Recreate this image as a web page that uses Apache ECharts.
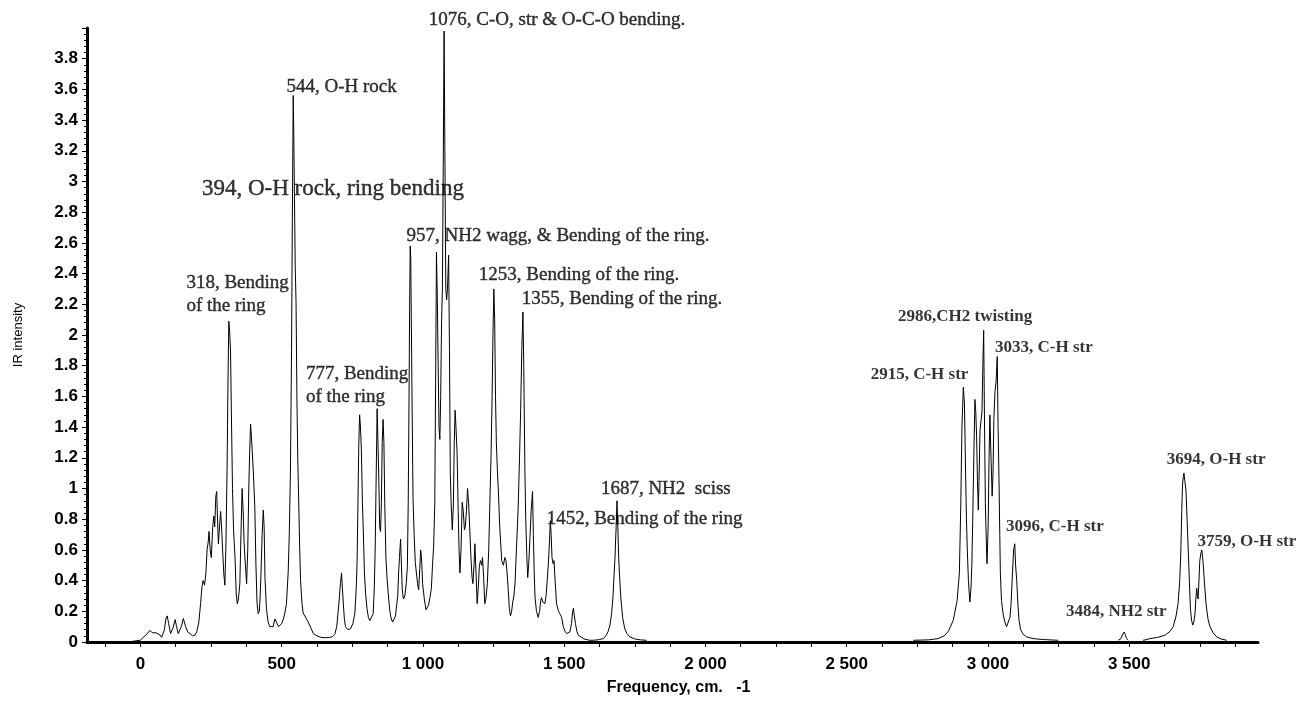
<!DOCTYPE html>
<html>
<head>
<meta charset="utf-8">
<title>IR spectrum</title>
<script src="https://cdn.jsdelivr.net/npm/echarts@6/dist/echarts.min.js"></script>
<style>
  html, body { margin: 0; padding: 0; background: #fff; }
  #chart { width: 1314px; height: 702px; }
</style>
</head>
<body>
<div id="chart"></div>
<script>
// fingerprint region, 0 - 1800 cm-1
const lowFreq = [-40, -25, 0, 10, 22, 34, 42, 48, 56, 63, 70, 75, 85, 90, 95, 100, 107, 115, 123, 128, 134, 145, 152, 160, 168, 175, 185, 193, 200, 207, 213, 218, 222, 227, 232, 236, 240, 243, 247, 251, 256, 260, 263, 267, 270, 273, 276, 280, 284, 288, 291, 295, 299, 303, 307, 310, 313, 316, 319, 322, 326, 330, 335, 339, 343, 347, 352, 356, 360, 364, 367, 371, 376, 380, 384, 387, 390, 393, 396, 400, 405, 409, 413, 417, 421, 424, 427, 431, 435, 438, 441, 446, 452, 458, 464, 470, 476, 480, 484, 489, 494, 500, 506, 511, 517, 523, 527, 531, 535, 538, 541, 543, 546, 548, 551, 554, 557, 560, 564, 567, 572, 576, 582, 588, 594, 598, 604, 612, 625, 640, 655, 670, 680, 688, 695, 700, 704, 708, 712, 715, 718, 722, 726, 735, 744, 752, 759, 764, 767, 770, 773, 776, 779, 782, 786, 789, 793, 797, 802, 807, 812, 818, 824, 828, 831, 834, 838, 841, 844, 847, 850, 853, 856, 859, 862, 865, 869, 873, 877, 883, 888, 893, 898, 903, 907, 911, 914, 917, 921, 924, 927, 931, 936, 941, 945, 948, 951, 953, 955, 957, 959, 962, 965, 969, 973, 977, 981, 985, 989, 992, 995, 999, 1005, 1011, 1015, 1020, 1025, 1030, 1034, 1038, 1042, 1045, 1048, 1051, 1054, 1057, 1060, 1063, 1066, 1069, 1072, 1075, 1078, 1081, 1084, 1087, 1091, 1094, 1097, 1100, 1104, 1108, 1111, 1114, 1117, 1121, 1125, 1128, 1131, 1135, 1139, 1143, 1147, 1150, 1154, 1158, 1162, 1166, 1170, 1174, 1177, 1181, 1184, 1188, 1192, 1196, 1200, 1204, 1208, 1211, 1215, 1219, 1223, 1228, 1233, 1237, 1241, 1245, 1248, 1251, 1254, 1257, 1260, 1264, 1267, 1272, 1279, 1285, 1290, 1294, 1298, 1302, 1306, 1310, 1314, 1318, 1322, 1326, 1331, 1337, 1342, 1346, 1350, 1354, 1357, 1361, 1364, 1368, 1371, 1375, 1379, 1383, 1388, 1391, 1394, 1397, 1402, 1408, 1413, 1417, 1420, 1424, 1428, 1432, 1436, 1440, 1444, 1448, 1451, 1454, 1457, 1461, 1464, 1468, 1473, 1480, 1486, 1491, 1497, 1503, 1509, 1515, 1520, 1526, 1530, 1533, 1536, 1540, 1545, 1550, 1556, 1570, 1591, 1610, 1625, 1638, 1648, 1656, 1662, 1668, 1673, 1677, 1680, 1684, 1687, 1690, 1693, 1697, 1701, 1707, 1714, 1722, 1733, 1750, 1770, 1792];
const lowInt = [0, 0.005, 0.012, 0.03, 0.05, 0.076, 0.06, 0.05, 0.06, 0.065, 0.045, 0.03, 0.08, 0.15, 0.17, 0.12, 0.055, 0.09, 0.146, 0.1, 0.055, 0.1, 0.153, 0.1, 0.065, 0.055, 0.04, 0.044, 0.07, 0.13, 0.25, 0.36, 0.40, 0.37, 0.45, 0.6, 0.65, 0.72, 0.6, 0.55, 0.75, 0.82, 0.75, 0.95, 0.98, 0.8, 0.64, 0.75, 0.85, 0.72, 0.60, 0.45, 0.37, 0.65, 1.14, 1.7, 2.09, 2.02, 1.9, 1.5, 1.0, 0.72, 0.55, 0.32, 0.25, 0.28, 0.38, 0.7, 1.0, 0.84, 0.65, 0.52, 0.38, 0.6, 1.03, 1.25, 1.42, 1.34, 1.34, 1.1, 0.88, 0.5, 0.25, 0.185, 0.2, 0.3, 0.45, 0.7, 0.86, 0.75, 0.42, 0.22, 0.13, 0.10, 0.087, 0.1, 0.15, 0.16, 0.12, 0.1, 0.10, 0.12, 0.15, 0.185, 0.25, 0.45, 0.7, 1.1, 1.9, 2.8, 3.56, 3.3, 3.3, 2.45, 2.21, 1.6, 1.2, 0.95, 0.6, 0.40, 0.25, 0.19, 0.17, 0.15, 0.13, 0.14, 0.09, 0.055, 0.04, 0.03, 0.028, 0.03, 0.035, 0.05, 0.10, 0.2, 0.28, 0.38, 0.45, 0.35, 0.26, 0.15, 0.10, 0.08, 0.087, 0.12, 0.185, 0.35, 0.52, 0.9, 1.28, 1.48, 1.4, 1.26, 0.9, 0.73, 0.45, 0.32, 0.22, 0.16, 0.14, 0.15, 0.185, 0.35, 0.6, 1.0, 1.52, 1.3, 1.05, 0.75, 0.72, 0.9, 1.3, 1.45, 1.3, 0.9, 0.55, 0.42, 0.32, 0.2, 0.15, 0.13, 0.14, 0.17, 0.24, 0.3, 0.45, 0.55, 0.67, 0.5, 0.34, 0.28, 0.30, 0.38, 0.49, 0.9, 1.6, 2.2, 2.58, 2.5, 2.1, 1.5, 0.94, 0.7, 0.52, 0.45, 0.38, 0.34, 0.48, 0.60, 0.55, 0.38, 0.28, 0.21, 0.2, 0.24, 0.29, 0.35, 0.5, 0.62, 0.90, 1.69, 2.54, 2.25, 1.8, 1.4, 1.32, 1.6, 2.08, 2.3, 3.1, 3.98, 3.14, 2.3, 2.23, 2.3, 2.52, 1.9, 1.1, 0.9, 0.73, 0.9, 1.3, 1.51, 1.4, 1.23, 0.85, 0.6, 0.45, 0.6, 0.91, 0.85, 0.73, 0.75, 0.85, 1.0, 0.9, 0.73, 0.55, 0.42, 0.38, 0.5, 0.64, 0.45, 0.25, 0.35, 0.5, 0.53, 0.5, 0.55, 0.42, 0.25, 0.28, 0.38, 0.6, 0.90, 1.2, 1.6, 2.0, 2.30, 2.1, 1.6, 1.3, 1.1, 0.99, 0.75, 0.53, 0.5, 0.55, 0.53, 0.45, 0.34, 0.22, 0.17, 0.2, 0.26, 0.3, 0.38, 0.6, 0.86, 1.2, 1.51, 1.9, 2.15, 1.8, 1.12, 0.8, 0.55, 0.42, 0.52, 0.68, 0.85, 0.98, 0.7, 0.45, 0.29, 0.2, 0.16, 0.2, 0.27, 0.29, 0.26, 0.25, 0.25, 0.3, 0.4, 0.51, 0.65, 0.79, 0.7, 0.55, 0.51, 0.53, 0.4, 0.25, 0.2, 0.18, 0.16, 0.1, 0.07, 0.055, 0.055, 0.065, 0.12, 0.2, 0.22, 0.17, 0.12, 0.07, 0.045, 0.033, 0.02, 0.011, 0.012, 0.016, 0.022, 0.04, 0.07, 0.11, 0.185, 0.3, 0.45, 0.55, 0.75, 0.92, 0.75, 0.55, 0.4, 0.28, 0.16, 0.09, 0.055, 0.033, 0.02, 0.014, 0.011];

// C-H stretching region
const chFreq = [2736, 2790, 2824, 2845, 2860, 2877, 2891, 2899, 2904, 2908, 2913, 2917, 2921, 2924, 2927, 2931, 2936, 2940, 2943, 2946, 2950, 2954, 2957, 2960, 2963, 2966, 2969, 2972, 2976, 2979, 2982, 2985, 2988, 2991, 2995, 2997, 3001, 3004, 3007, 3011, 3015, 3018, 3021, 3025, 3029, 3033, 3036, 3039, 3042, 3044, 3048, 3054, 3060, 3066, 3073, 3078, 3082, 3087, 3091, 3095, 3098, 3102, 3106, 3110, 3116, 3125, 3137, 3160, 3196, 3249];
const chInt = [0.011, 0.014, 0.022, 0.04, 0.07, 0.14, 0.27, 0.45, 0.9, 1.4, 1.66, 1.55, 1.1, 0.8, 0.6, 0.4, 0.26, 0.35, 0.5, 0.77, 1.2, 1.58, 1.5, 1.34, 1.05, 0.86, 1.1, 1.38, 1.45, 1.5, 1.8, 2.03, 1.4, 0.9, 0.6, 0.51, 0.77, 1.2, 1.48, 1.2, 0.95, 1.1, 1.45, 1.63, 1.7, 1.86, 1.4, 1.08, 0.7, 0.45, 0.27, 0.18, 0.13, 0.1, 0.11, 0.16, 0.25, 0.45, 0.6, 0.64, 0.5, 0.4, 0.25, 0.14, 0.08, 0.05, 0.033, 0.022, 0.016, 0.011];

// N-H stretching
const nhFreq = [3461, 3470, 3476, 3482, 3486, 3490, 3497];
const nhInt = [0.011, 0.02, 0.045, 0.065, 0.05, 0.025, 0.011];

// O-H stretching
const ohFreq = [3549, 3560, 3573, 3600, 3627, 3645, 3656, 3666, 3673, 3679, 3683, 3686, 3689, 3692, 3694, 3697, 3701, 3705, 3709, 3713, 3717, 3721, 3725, 3729, 3733, 3736, 3739, 3742, 3744, 3747, 3750, 3754, 3757, 3760, 3762, 3766, 3772, 3779, 3786, 3797, 3810, 3825, 3845];
const ohInt = [0.011, 0.015, 0.022, 0.03, 0.044, 0.07, 0.10, 0.17, 0.25, 0.4, 0.60, 0.85, 1.03, 1.08, 1.10, 1.05, 0.99, 0.8, 0.60, 0.4, 0.21, 0.14, 0.11, 0.13, 0.185, 0.28, 0.35, 0.3, 0.28, 0.4, 0.53, 0.58, 0.60, 0.55, 0.51, 0.4, 0.25, 0.15, 0.10, 0.06, 0.033, 0.02, 0.011];

const xTicks = [-125, 0, 125, 250, 375, 500, 625, 750, 875, 1000, 1125, 1250, 1375, 1500, 1625, 1750, 1875, 2000, 2125, 2250, 2375, 2500, 2625, 2750, 2875, 3000, 3125, 3250, 3375, 3500, 3625, 3750, 3875];
const xLabels = [0, 500, 1000, 1500, 2000, 2500, 3000, 3500];

// peak assignments: [freq, intensity, text, kind]
const notes = [
  [1021, 4.05, '1076, C-O, str & O-C-O bending.', 'normal'],
  [517, 3.617, '544, O-H rock', 'normal'],
  [218, 2.952, '394, O-H rock, ring bending', 'big'],
  [942, 2.648, '957, NH2 wagg, & Bending of the ring.', 'normal'],
  [1198, 2.391, '1253, Bending of the ring.', 'normal'],
  [1350, 2.235, '1355, Bending of the ring.', 'normal'],
  [163, 2.265, '318, Bending\nof the ring', 'normal'],
  [586, 1.674, '777, Bending\nof the ring', 'normal'],
  [1630, 0.994, '1687, NH2  sciss', 'normal'],
  [1438, 0.798, '1452, Bending of the ring', 'normal'],
  [2682, 2.119, '2986,CH2 twisting', 'bold'],
  [3025, 1.917, '3033, C-H str', 'bold'],
  [2585, 1.739, '2915, C-H str', 'bold'],
  [3064, 0.750, '3096, C-H str', 'bold'],
  [3276, 0.200, '3484, NH2 str', 'bold'],
  [3633, 1.191, '3694, O-H str', 'bold'],
  [3742, 0.652, '3759, O-H str', 'bold']
];

function zip(xs, ys) {
  return xs.map((x, i) => [x, ys[i]]);
}

const spectrum = [].concat(
  zip(lowFreq, lowInt), [[2200, null]],
  zip(chFreq, chInt), [[3350, null]],
  zip(nhFreq, nhInt), [[3520, null]],
  zip(ohFreq, ohInt)
);

function noteLabel(kind) {
  const base = {fontFamily: 'Liberation Serif', color: '#000', textBorderColor: '#000'};
  if (kind === 'big') {
    return Object.assign(base, {fontSize: 23, fontWeight: 'normal', lineHeight: 26, textBorderWidth: 0.4});
  }
  if (kind === 'bold') {
    return Object.assign(base, {fontSize: 17, fontWeight: 'bold', lineHeight: 20, textBorderWidth: 0});
  }
  return Object.assign(base, {fontSize: 19, fontWeight: 'normal', lineHeight: 23, textBorderWidth: 0.4});
}

const noteData = notes.map(n => ({
  value: [n[0], n[1]],
  label: Object.assign({formatter: n[2]}, noteLabel(n[3]))
}));

function thousands(v) {
  return String(v).replace(/\B(?=(\d{3})+(?!\d))/g, ' ');
}

const chart = echarts.init(document.getElementById('chart'));
chart.setOption({
  animation: false,
  backgroundColor: '#ffffff',
  grid: {left: 87, right: 56, top: 28, bottom: 60},
  xAxis: {
    type: 'value',
    min: -189,
    max: 3956,
    name: 'Frequency, cm.   -1',
    nameLocation: 'middle',
    nameGap: 38,
    nameTextStyle: {
      fontFamily: 'Liberation Sans', fontSize: 16, fontWeight: 'bold', color: '#000',
      padding: [0, 0, 0, 12]
    },
    axisLine: {onZero: false, lineStyle: {color: '#000', width: 3}},
    axisTick: {show: true, length: 5, customValues: xTicks, lineStyle: {color: '#000', width: 1}},
    axisLabel: {
      customValues: xLabels,
      formatter: v => thousands(v),
      margin: 14,
      fontFamily: 'Liberation Sans', fontSize: 17, fontWeight: 'bold', color: '#000'
    },
    splitLine: {show: false}
  },
  yAxis: {
    type: 'value',
    min: 0,
    max: 4,
    interval: 0.2,
    name: 'IR intensity',
    nameLocation: 'middle',
    nameGap: 62,
    nameTextStyle: {fontFamily: 'Liberation Sans', fontSize: 13, color: '#000'},
    axisLine: {show: true, onZero: false, lineStyle: {color: '#000', width: 3}},
    axisTick: {show: true, length: 5, lineStyle: {color: '#000', width: 1}},
    minorTick: {show: true, splitNumber: 5, length: 3, lineStyle: {color: '#000', width: 1}},
    axisLabel: {
      formatter: v => (v > 3.9 ? '' : String(Math.round(v * 10) / 10)),
      margin: 9,
      fontFamily: 'Liberation Sans', fontSize: 17, fontWeight: 'bold', color: '#000'
    },
    splitLine: {show: false}
  },
  series: [
    {
      name: 'IR',
      type: 'line',
      data: spectrum,
      showSymbol: false,
      connectNulls: false,
      lineStyle: {color: '#000', width: 1},
      z: 3
    },
    {
      name: 'assignments',
      type: 'scatter',
      data: noteData,
      symbolSize: 0,
      clip: false,
      silent: true,
      label: {show: true, position: 'right', distance: 0, color: '#000'},
      z: 4
    }
  ]
});
</script>
</body>
</html>
